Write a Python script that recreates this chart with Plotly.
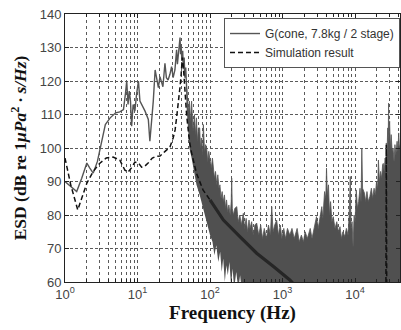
import plotly.graph_objects as go

# ---------------- data ----------------
# Measured curve, low-frequency part (Hz, dB)
meas_f = [1.0, 1.2, 1.45, 1.7, 2.0, 2.2, 2.45, 2.8, 3.05, 3.3, 3.6, 4.2, 5.0, 5.7, 6.4,
          6.8, 7.1, 7.4, 7.7, 8.0, 8.3, 8.7, 9.2, 9.7, 10.3, 10.8, 11.5, 12.7, 14.1,
          14.8, 15.7, 16.5, 17.5, 18.4, 19.4, 20.4, 22.4, 23.9, 25.0, 26.4, 28.0,
          29.5, 31.0, 32.8, 33.8, 34.6, 35.5, 36.5, 37.5, 38.6, 39.3, 40.0, 41.0,
          42.0, 42.8, 44.0, 45.0, 46.2, 47.5, 50.0]
meas_v = [90, 88.5, 87, 91, 95.5, 94, 92.5, 96, 100, 104, 107, 109, 110.5, 110.8, 111.5,
          116, 120, 113, 117, 114, 106.5, 113, 111, 116, 120, 114, 113, 111, 108.5,
          102, 108.5, 114, 123.3, 120, 118, 121.3, 118.3, 125.3, 121, 120.3, 122,
          124.3, 121, 123.3, 126, 129.3, 125, 128, 131, 133, 128, 130, 126,
          129, 123.5, 127, 121, 124, 118.3, 110.4]

# Measured curve, noisy high-frequency part: upper envelope
hi_f = [47.5, 50, 52, 54, 55.7, 57, 58.5, 61, 63, 65, 67, 69, 72, 74, 76, 79, 81, 84, 87, 90,
        93, 96, 100, 104, 108, 111, 115, 119, 124, 128, 133, 137, 142, 147, 152, 158, 164,
        169, 175, 182, 190, 196, 199, 203, 210, 220, 234, 245, 258, 270, 288, 300, 315,
        330, 345, 355, 375, 395, 415, 440, 470, 500, 530, 560, 600, 640, 680, 710, 740,
        780, 830, 880, 930, 980, 1040, 1100, 1170, 1260, 1350, 1450, 1590, 1700, 1820,
        1940, 2050, 2200, 2410, 2550, 2700, 2940, 3100, 3300, 3480, 3600, 3800, 3950,
        4040, 4150, 4300, 4450, 4600, 4800, 5000, 5300, 5600, 5900, 6200, 6500, 6800,
        7200, 7600, 8000, 8300, 8600, 8800, 9100, 9400, 9700, 10000, 10400, 10800, 11200,
        11700, 12100, 12400, 12700, 13100, 13500, 14000, 14600, 15200, 16000, 16800,
        17500, 18300, 19000, 19800, 20500, 21000, 21700, 22500, 23300, 24000, 24500,
        25200, 26000, 26600, 27000, 27600, 28200, 28700, 29000, 29400, 30000, 30700,
        31500, 32500, 33500, 34500, 35500, 36500, 38000, 39000, 40000, 41000, 42000]
hi_v = [118, 110, 114, 108, 114, 106, 105, 110, 104, 109, 102, 106, 106, 100, 103, 98, 107,
        99, 101, 100, 96, 99, 97, 94, 97, 95, 91, 93, 89, 92, 88, 89, 85, 87, 84, 86, 82,
        84.5, 81, 83, 80, 84, 91, 82, 80, 82, 82.5, 78, 80, 77, 80.5, 76, 79, 75, 78.5,
        76, 78, 74, 77, 77.6, 74, 77, 73, 76, 73, 77, 74, 82.5, 75, 77, 78.5, 74, 77, 73,
        76, 73, 76, 74, 76, 73, 76, 72, 74, 72, 75, 73, 76, 73, 76, 79.5, 76, 79, 82.5,
        79, 87, 85, 94, 86, 89, 80, 84, 78, 79.5, 76, 78, 75, 76.5, 73, 75, 73.6, 76, 74,
        80, 91.5, 76, 78, 70.6, 80, 78, 87.5, 82, 84, 88, 84, 100, 88, 87, 86.5, 84, 87,
        84, 85.5, 88, 85, 88, 86, 90, 88, 96.4, 90, 93, 91, 95, 95.4, 93, 97, 95, 101.5,
        98, 106, 102, 113.4, 104, 108, 100, 104, 99, 100, 96, 101, 98, 102, 99, 104.5,
        100, 101]

# Measured curve, noisy high-frequency part: lower envelope
lo_f = [47.5, 50, 52, 55.7, 60, 65, 72, 80, 90, 100, 108, 115, 122, 130, 138, 145, 152,
        160, 168, 176, 185, 195, 205, 215, 230, 245, 260, 275, 300, 42000]
lo_v = [112, 104, 100, 97, 93, 89, 86, 82, 78, 74, 72, 68, 71, 66, 69, 63, 67,
        60, 65, 62, 66, 59, 64, 58, 63, 58, 62, 57, 55, 55]

# Simulation result
sim_f = [1.0, 1.2, 1.5, 1.75, 2.0, 2.45, 3.0, 3.7, 4.6, 5.7, 6.7, 7.4, 8.2, 9.2, 10.3,
         11.4, 12.5, 14.0, 16.0, 18.0, 20.4, 24.0, 28.0, 31.0, 33.0, 35.0, 36.6, 38.6,
         40.0, 41.5, 43.0, 45.0, 47.5, 52.0, 55.7, 65.0, 80.0, 100.0, 153.0, 260.0,
         440.0, 750.0, 1260.0, 2000.0, 10000.0, 26500.0, 27000.0, 27500.0, 42000.0]
sim_v = [97, 89, 81.5, 86, 89.5, 93, 95.4, 97, 97.3, 96.4, 93.4, 92.8, 94, 95.8, 95.5,
         94.3, 94.5, 95.5, 97, 97.5, 97.6, 99, 100.3, 103, 105.4, 110, 113.4, 118.3,
         122, 127, 124, 117, 110, 102, 98.5, 92.5, 87.5, 84.5, 78.5, 73.5,
         68.6, 64.6, 60.6, 56, 40, 40, 101, 40, 40]

x_tickvals = [1, 10, 100, 1000, 10000]
x_ticktext = ["10<sup>0</sup>", "10<sup>1</sup>", "10<sup>2</sup>", "10<sup>3</sup>", "10<sup>4</sup>"]
y_tickvals = [60, 70, 80, 90, 100, 110, 120, 130, 140]

# ---------------- figure ----------------
minor_vals = [m * d for d in x_tickvals for m in range(2, 10) if m * d < 42000]

GRAY = "#555555"
GRID = "#5a5a5a"
fig = go.Figure()

fig.add_trace(go.Scatter(x=lo_f, y=lo_v, mode="lines", line=dict(width=0, color=GRAY),
                         showlegend=False, hoverinfo="skip"))
fig.add_trace(go.Scatter(x=hi_f, y=hi_v, mode="lines", fill="tonexty", fillcolor="#505050",
                         line=dict(width=0.8, color=GRAY), showlegend=False, hoverinfo="skip"))
fig.add_trace(go.Scatter(x=meas_f, y=meas_v, mode="lines", name="G(cone, 7.8kg / 2 stage)",
                         line=dict(width=1.4, color=GRAY)))
fig.add_trace(go.Scatter(x=sim_f, y=sim_v, mode="lines", name="Simulation result",
                         line=dict(width=1.5, color="#111111", dash="5px,3px")))
idx = [i for i, f in enumerate(sim_f) if 100 <= f <= 2000]
fig.add_trace(go.Scatter(x=[sim_f[i] for i in idx], y=[sim_v[i] for i in idx], mode="lines",
                         line=dict(width=3.2, color="#262626"), showlegend=False,
                         hoverinfo="skip"))

tickfont = dict(family="Liberation Sans, Arial", size=13, color="#444444")
titlefont = dict(family="Liberation Serif, Times New Roman", size=19, color="#111111")

fig.update_xaxes(type="log", range=[0, 4.62], tickvals=x_tickvals, ticktext=x_ticktext,
                 tickfont=tickfont, showline=True, linecolor="#222222", linewidth=1,
                 mirror="allticks", ticks="inside", ticklen=4, tickcolor="#222222",
                 showgrid=True, gridcolor=GRID, gridwidth=1, griddash="dot",
                 minor=dict(tickvals=minor_vals, ticks="inside", ticklen=3,
                            tickcolor="#222222", showgrid=True, gridcolor=GRID,
                            griddash="dot", gridwidth=1),
                 zeroline=False,
                 title=dict(text="<b>Frequency (Hz)</b>", font=titlefont, standoff=5))
fig.update_yaxes(range=[60, 140], tickvals=y_tickvals, tickfont=tickfont,
                 showline=True, linecolor="#222222", linewidth=1, mirror="allticks",
                 ticks="inside", ticklen=4, tickcolor="#222222",
                 showgrid=True, gridcolor=GRID, gridwidth=1, griddash="3px,2px",
                 zeroline=False,
                 title=dict(text="<b>ESD (dB re 1<i>μPa</i><sup>2</sup><i> · s/Hz</i>)</b>",
                            font=dict(family="Liberation Serif, Times New Roman", size=17.5,
                                      color="#111111"), standoff=8))

fig.update_layout(
    width=401, height=330,
    margin=dict(l=65, r=1, t=14, b=48),
    paper_bgcolor="white", plot_bgcolor="white",
    legend=dict(x=1, xanchor="right", y=0.985, yanchor="top", bgcolor="white",
                bordercolor="#555555", borderwidth=1, traceorder="normal",
                font=dict(family="Liberation Sans, Arial", size=12, color="#333333"),
                tracegroupgap=0, itemwidth=30),
)

fig.write_html("out.html")
